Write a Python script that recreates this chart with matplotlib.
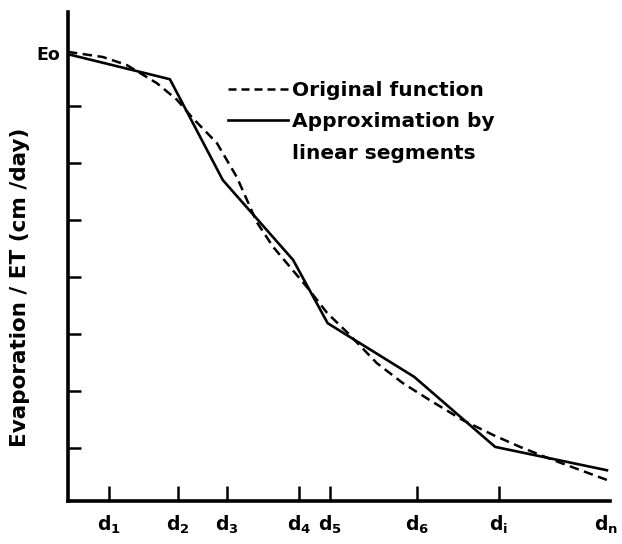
import matplotlib
matplotlib.use("Agg")
import matplotlib.pyplot as plt
from matplotlib.lines import Line2D

plt.rcParams["font.family"] = ["DejaVu Sans"]
plt.rcParams["font.weight"] = "bold"
plt.rcParams["mathtext.fontset"] = "dejavusans"
plt.rcParams["mathtext.default"] = "bf"

# original (smooth) function
orig_x = [0.0, 0.65, 1.09, 1.65, 2.02, 2.31, 2.76, 3.13, 3.50, 3.80, 4.11,
          4.43, 4.80, 5.17, 5.72, 6.20, 6.70, 7.31, 7.87, 8.37, 8.98, 9.98]
orig_y = [7.88, 7.79, 7.65, 7.33, 7.04, 6.72, 6.28, 5.68, 4.89, 4.46, 4.11,
          3.75, 3.30, 2.96, 2.42, 2.07, 1.77, 1.42, 1.16, 0.95, 0.72, 0.37]

# piecewise linear approximation
seg_x = [0.0, 1.89, 2.87, 4.17, 4.81, 6.41, 7.91, 9.98]
seg_y = [7.84, 7.40, 5.63, 4.23, 3.12, 2.18, 0.95, 0.54]

# depth ticks (last one, dn, has a label but no tick mark)
d_pos = [0.76, 2.04, 2.94, 4.28, 4.85, 6.46, 7.98, 9.96]
d_labels = ["d$_1$", "d$_2$", "d$_3$", "d$_4$", "d$_5$", "d$_6$", "d$_i$", "d$_n$"]
y_ticks = [0.93, 1.93, 2.93, 3.93, 4.93, 5.93, 6.93]
eo_level = 7.88

fig = plt.figure(figsize=(6.22, 5.44), dpi=100)
ax = fig.add_axes([0.109, 0.079, 0.872, 0.899])

ax.plot(orig_x, orig_y, color="black", lw=1.8, dashes=(3.8, 2.2))
ax.plot(seg_x, seg_y, color="black", lw=1.9)

ax.set_xlim(0, 10.04)
ax.set_ylim(0, 8.58)

for s in ["top", "right"]:
    ax.spines[s].set_visible(False)
for s in ["left", "bottom"]:
    ax.spines[s].set_linewidth(2.6)

ax.set_xticks(d_pos)
ax.set_xticklabels(d_labels, fontsize=13.5)
ax.xaxis.get_major_ticks()[-1].tick1line.set_visible(False)
ax.set_yticks(y_ticks)
ax.set_yticklabels([])
ax.tick_params(axis="x", direction="in", length=10.5, width=1.8, pad=9)
ax.tick_params(axis="y", direction="in", length=9.5, width=1.8)

ax.text(-0.15, eo_level - 0.05, "Eo", ha="right", va="center", fontsize=12.5)

ax.set_ylabel("Evaporation / ET (cm /day)", fontsize=15.5, fontweight="bold")
ax.yaxis.set_label_coords(-0.069, 0.436)

handles = [Line2D([], [], color="black", lw=1.8, dashes=(3.2, 2.0)),
           Line2D([], [], color="black", lw=1.9),
           Line2D([], [], color="none")]
labels = ["Original function", "Approximation by", "linear segments"]
ax.legend(handles, labels, loc="upper left", bbox_to_anchor=(0.28, 0.876),
          frameon=False, fontsize=14.5, handlelength=3.0, handletextpad=0.2,
          labelspacing=0.62, borderaxespad=0)

fig.savefig("out.png", dpi=100)
